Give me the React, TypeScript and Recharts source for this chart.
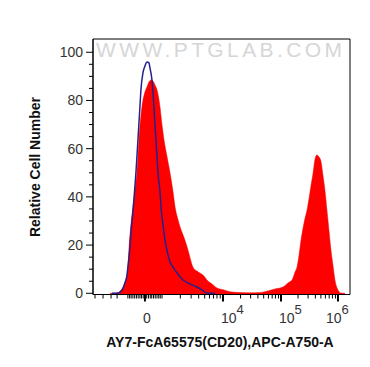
import React from 'react';
import { ComposedChart, Area, Line, XAxis, YAxis, ReferenceArea } from 'recharts';

// channel scale (0-1024, biexponential display) vs relative cell number
const redChannel = [68, 84, 100, 112, 124, 131, 139, 143, 151, 159, 167, 175, 183, 195, 207, 215, 223, 231, 239, 247, 255, 267, 275, 283, 295, 307, 319, 327, 339, 347, 363, 375, 386, 398, 414, 426, 442, 454, 474, 494, 522, 546, 586, 625, 665, 697, 725, 757, 777, 793, 805, 813, 821, 829, 837, 845, 853, 861, 869, 877, 884, 892, 900, 908, 916, 924, 932, 940, 948, 956, 964, 976, 988, 1004];
const redCount = [0, 0, 0.3, 1.4, 3.4, 5.5, 10.5, 18, 28.3, 35.8, 42.9, 49.9, 63.6, 77.3, 83.5, 85.6, 87.7, 88.5, 88.1, 86.4, 84.4, 77.3, 69.8, 63.6, 56.6, 49.9, 42, 35.8, 30.4, 27.5, 23, 19.2, 15, 10.9, 9.2, 8.4, 7.2, 5.5, 3.9, 2.2, 1.4, 0.6, 0.3, 0.2, 0.3, 1, 1.8, 2.6, 4.3, 5.5, 8.8, 10.9, 15.9, 22.1, 27.1, 31.2, 34.6, 39.5, 44.9, 49.9, 55.3, 57.4, 56.6, 54.9, 49.1, 42.9, 34.6, 26.3, 18, 11.7, 5.5, 1.4, 0.1, 0];

const blueChannel = [76, 96, 108, 120, 127, 135, 139, 147, 151, 159, 163, 171, 179, 187, 191, 199, 207, 215, 223, 227, 235, 239, 243, 247, 251, 255, 259, 267, 271, 279, 287, 299, 307, 319, 335, 359, 386, 414, 434, 454, 486];
const blueCount = [0, 0, 0.5, 2.2, 4.3, 7.2, 10.9, 18.8, 25, 33.7, 38.7, 49.9, 63.6, 77.3, 84.4, 91.4, 94.3, 96, 95.6, 93.5, 88.5, 83.5, 77.3, 69.8, 63.6, 56.6, 49.9, 42, 35.8, 28.3, 22.1, 15.9, 13, 10.9, 8.4, 5.5, 3.9, 2.6, 1.4, 0.1, 0];

const yTickValues = [0, 5, 10, 15, 20, 25, 30, 35, 40, 45, 50, 55, 60, 65, 70, 75, 80, 85, 90, 95, 100];
const yMajorValues = [0, 20, 40, 60, 80, 100];

const xMajorValues = [207, 518, 749, 976];
const xMajorBase = ['0', '10', '10', '10'];
const xMajorExp = ['', '4', '5', '6'];
const xMinorValues = [8, 40, 72, 96, 139, 146, 152, 159, 166, 173, 180, 187, 193, 200, 214, 221, 228, 234, 241, 248, 255, 262, 268, 275, 348, 391, 421, 445, 464, 480, 494, 507, 588, 628, 657, 680, 699, 714, 727, 739, 817, 857, 886, 908, 926, 941, 954, 966];

const xTitle = 'AY7-FcA65575(CD20),APC-A750-A';
const yTitle = 'Relative Cell Number';
const watermark = 'WWW.PTGLAB.COM';

const redData = redChannel.map((c, i) => ({ c, v: redCount[i] }));
const blueData = blueChannel.map((c, i) => ({ c, v: blueCount[i] }));
const xTicks = [...xMinorValues, ...xMajorValues].sort((a, b) => a - b);

const FONT = '"Liberation Sans", Arial, sans-serif';

const YTick = (props: any) => {
  const { x, y, payload } = props;
  const v = payload.value;
  const major = yMajorValues.includes(v);
  return (
    <g>
      <line x1={x - (major ? 7 : 4)} x2={x} y1={y} y2={y} stroke="#000" strokeWidth={1} />
      {major && (
        <text x={x - 10} y={y + 5} textAnchor="end" fontSize={14} fontFamily={FONT} fill="#333">
          {v}
        </text>
      )}
    </g>
  );
};

const XTick = (props: any) => {
  const { x, y, payload } = props;
  const idx = xMajorValues.indexOf(payload.value);
  if (idx < 0) {
    return <line x1={x} x2={x} y1={y} y2={y + 4} stroke="#000" strokeWidth={1} />;
  }
  const exp = xMajorExp[idx];
  return (
    <g>
      <line x1={x} x2={x} y1={y} y2={y + 7} stroke="#000" strokeWidth={2} />
      {exp === '' ? (
        <text x={x + 2} y={y + 28} textAnchor="middle" fontSize={14} fontFamily={FONT} fill="#333">
          {xMajorBase[idx]}
        </text>
      ) : (
        <text x={Math.min(x - 2, 326)} y={y + 28} textAnchor="start" fontSize={14} fontFamily={FONT} fill="#333">
          {xMajorBase[idx]}
          <tspan dy={-9} fontSize={13}>{exp}</tspan>
        </text>
      )}
    </g>
  );
};

const XTitle = () => (
  <text x={220} y={347} textAnchor="middle" fontSize={14} fontWeight="bold" fontFamily={FONT} fill="#111">
    {xTitle}
  </text>
);

const YTitle = () => (
  <text
    x={35}
    y={167}
    transform="rotate(-90 35 167)"
    textAnchor="middle"
    dominantBaseline="central"
    fontSize={14}
    fontWeight="bold"
    fontFamily={FONT}
    fill="#111"
  >
    {yTitle}
  </text>
);

export default function App() {
  return (
    <div style={{ position: 'absolute', left: 0, top: 0, width: 370, height: 367, background: '#fff' }}>
      <ComposedChart
        width={370}
        height={367}
        margin={{ top: 39, right: 20, bottom: 0, left: 0 }}
      >
        <XAxis
          type="number"
          dataKey="c"
          domain={[0, 1024]}
          ticks={xTicks}
          interval={0}
          tick={<XTick />}
          tickSize={0}
          tickMargin={0}
          tickLine={false}
          axisLine={{ stroke: '#000' }}
          height={72.5}
          allowDataOverflow
          label={<XTitle />}
        />
        <YAxis
          type="number"
          dataKey="v"
          domain={[-0.5, 105.5]}
          ticks={yTickValues}
          interval={0}
          tick={<YTick />}
          tickSize={0}
          tickMargin={0}
          tickLine={false}
          axisLine={{ stroke: '#000' }}
          width={93}
          allowDataOverflow
          label={<YTitle />}
        />
        <Area
          data={redData}
          dataKey="v"
          type="monotone"
          fill="#ff0000"
          fillOpacity={1}
          stroke="#f00000"
          strokeWidth={0.5}
          baseValue={-0.5}
          isAnimationActive={false}
          dot={false}
          activeDot={false}
        />
        <Line
          data={blueData}
          dataKey="v"
          type="monotone"
          stroke="#24208e"
          strokeWidth={1.5}
          dot={false}
          activeDot={false}
          isAnimationActive={false}
        />
        <ReferenceArea x1={0} x2={1024} y1={-0.5} y2={105.5} fill="none" stroke="#000" strokeWidth={1} ifOverflow="extendDomain" />
      </ComposedChart>
      <div
        style={{
          position: 'absolute',
          left: 96,
          top: 39,
          fontFamily: FONT,
          fontSize: 21,
          lineHeight: '21px',
          letterSpacing: 3.4,
          color: '#d6d6d6',
          whiteSpace: 'nowrap',
          pointerEvents: 'none',
        }}
      >
        {watermark}
      </div>
    </div>
  );
}
